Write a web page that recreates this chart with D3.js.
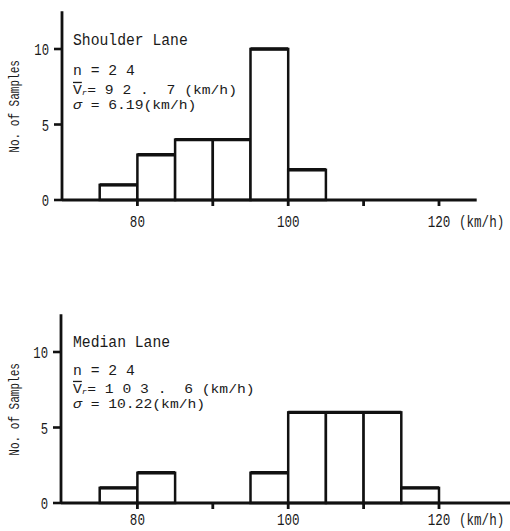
<!DOCTYPE html>
<html>
<head>
<meta charset="utf-8">
<script src="https://cdn.jsdelivr.net/npm/d3@7"></script>
<style>
  body { margin: 0; background: #fff; }
  svg text { font-family: "Liberation Mono", monospace; fill: #1a1a1a; white-space: pre; }
</style>
</head>
<body>
<svg id="chart"></svg>
<script>
// histogram bins, 5 km/h wide
let binStarts = [75, 80, 85, 90, 95, 100, 105, 110, 115];
let shoulderCounts = [1, 3, 4, 4, 10, 2, 0, 0, 0];
let medianCounts = [1, 2, 0, 0, 2, 6, 6, 6, 1];
let binWidth = 5;

let xTicks = [80, 90, 100, 110, 120];
let xTickLabels = ["80", "", "100", "", "120"];
let xUnit = "(km/h)";
let yTicks = [0, 5, 10];
let yLabel = "No. of Samples";

let titles = ["Shoulder Lane", "Median Lane"];
let nTexts = ["n = 2 4", "n = 2 4"];
let meanTexts = ["= 9 2 .  7 (km/h)", "= 1 0 3 .  6 (km/h)"];
let sigmaTexts = ["= 6.19(km/h)", "= 10.22(km/h)"];

let width = 510;
let height = 531;
let svg = d3.select("#chart").attr("width", width).attr("height", height);

let panels = [
  { counts: shoulderCounts, base: 200, axisEnd: 125, left: 62, labelDy: 27, offs: [-155, -125, -106, -91] },
  { counts: medianCounts, base: 503, axisEnd: 129.7, left: 61, labelDy: 22, offs: [-156, -128, -110, -95] }
];

let xScale = d3.scaleLinear().domain([70, 120]).range([62, 439]);

// condensed-looking text: scale glyphs horizontally
let label = (g, x, y, str, size, sx, anchor) =>
  g.append("text")
    .attr("transform", `translate(${x},${y}) scale(${sx},1)`)
    .attr("font-size", size)
    .attr("text-anchor", anchor || "start")
    .text(str);

let drawPanel = (p, i) => {
  let yScale = d3.scaleLinear().domain([0, 10]).range([p.base, p.base - 151]);
  let g = svg.append("g");

  // bars
  let bins = binStarts.map((s, k) => ({ x0: s, x1: s + binWidth, c: p.counts[k] }))
    .filter((d) => d.c > 0);
  g.selectAll("rect")
    .data(bins)
    .enter()
    .append("rect")
    .attr("x", (d) => xScale(d.x0))
    .attr("y", (d) => yScale(d.c))
    .attr("width", (d) => xScale(d.x1) - xScale(d.x0))
    .attr("height", (d) => yScale(0) - yScale(d.c))
    .attr("fill", "#fff")
    .attr("stroke", "#111")
    .attr("stroke-width", 2.5);
  g.selectAll("line.top")
    .data(bins)
    .enter()
    .append("line")
    .attr("x1", (d) => xScale(d.x0))
    .attr("x2", (d) => xScale(d.x1))
    .attr("y1", (d) => yScale(d.c))
    .attr("y2", (d) => yScale(d.c))
    .attr("stroke", "#111")
    .attr("stroke-width", 3.4);

  // y axis
  g.append("line")
    .attr("x1", p.left).attr("x2", p.left)
    .attr("y1", yScale(12.5)).attr("y2", yScale(0))
    .attr("stroke", "#111").attr("stroke-width", 2.8);
  g.selectAll("line.ytick")
    .data(yTicks)
    .enter()
    .append("line")
    .attr("x1", p.left - 8).attr("x2", p.left)
    .attr("y1", (d) => yScale(d)).attr("y2", (d) => yScale(d))
    .attr("stroke", "#111").attr("stroke-width", 2.6);
  yTicks.forEach((t) => label(g, p.left - 13, yScale(t) + 6, String(t), 17, 0.72, "end"));

  // x axis
  g.append("line")
    .attr("x1", p.left).attr("x2", xScale(p.axisEnd))
    .attr("y1", yScale(0)).attr("y2", yScale(0))
    .attr("stroke", "#111").attr("stroke-width", 2.8);
  g.selectAll("line.xtick")
    .data(xTicks)
    .enter()
    .append("line")
    .attr("x1", (d) => xScale(d)).attr("x2", (d) => xScale(d))
    .attr("y1", yScale(0)).attr("y2", yScale(0) + 6)
    .attr("stroke", "#111").attr("stroke-width", 2.8);
  xTicks.forEach((t, k) =>
    label(g, xScale(t), yScale(0) + p.labelDy, xTickLabels[k], 17, 0.74, "middle"));
  label(g, xScale(120) + 20, yScale(0) + p.labelDy, xUnit, 17, 0.74, "start");

  // y label
  g.append("text")
    .attr("transform", `translate(19, ${yScale(6.2)}) rotate(-90) scale(0.8,1)`)
    .attr("text-anchor", "middle")
    .attr("font-size", 13.8)
    .text(yLabel);

  // annotations
  let tx = 73;
  label(g, tx, p.base + p.offs[0], titles[i], 16, 0.92);
  label(g, tx, p.base + p.offs[1], nTexts[i], 15.5, 0.95);
  let m = label(g, tx, p.base + p.offs[2], "", 13, 1.13);
  m.append("tspan").attr("text-decoration", "overline").text("V");
  m.append("tspan").attr("font-size", 8).attr("font-style", "italic").attr("dy", 1).text("r");
  m.append("tspan").attr("dy", -1).text(meanTexts[i]);
  let s = label(g, tx, p.base + p.offs[3], "", 13, 1.13);
  s.append("tspan").attr("font-style", "italic").text("σ");
  s.append("tspan").text(" " + sigmaTexts[i]);
};

panels.forEach(drawPanel);
</script>
</body>
</html>
